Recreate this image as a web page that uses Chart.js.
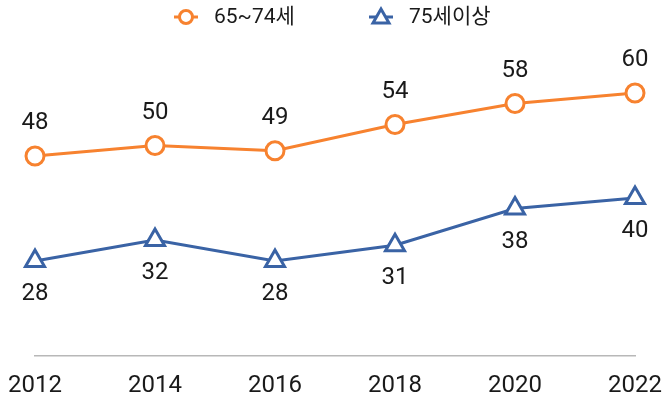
<!DOCTYPE html>
<html><head><meta charset="utf-8">
<script src="https://cdn.jsdelivr.net/npm/chart.js@4"></script>
<style>html,body{margin:0;padding:0;background:#fff}#wrap{width:664px;height:403px}</style>
</head><body><div id="wrap"><canvas id="c" width="664" height="403"></canvas></div>
<script>
const categories = ['2012','2014','2016','2018','2020','2022'];
const seriesNames = ['65~74세','75세이상'];
const age65to74 = [48,50,49,54,58,60];
const age75plus = [28,32,28,31,38,40];
const colors = ['#F7822F','#3A63A5'];
const FONT = "Roboto, 'Noto Sans CJK KR', sans-serif";

const labelPlugin = {
  id:'labels',
  afterDatasetsDraw(chart){
    const ctx = chart.ctx;
    ctx.save();
    ctx.font = '24px ' + FONT;
    ctx.fillStyle = '#1a1a1a';
    ctx.textAlign = 'center';
    ctx.textBaseline = 'middle';
    chart.data.datasets.forEach((ds,i)=>{
      const meta = chart.getDatasetMeta(i);
      meta.data.forEach((pt,j)=>{
        const off = i===0 ? -33 : 33;
        ctx.fillText(String(ds.data[j]), pt.x, pt.y + off);
      });
    });
    ctx.restore();
  }
};

const legendPlugin = {
  id:'customLegend',
  afterDraw(chart){
    const ctx = chart.ctx;
    ctx.save();
    const y = 17;
    const items = [{x:174, text:seriesNames[0], style:'circle', color:colors[0]},
                   {x:369, text:seriesNames[1], style:'triangle', color:colors[1]}];
    items.forEach(it=>{
      ctx.strokeStyle = it.color; ctx.lineWidth = 3;
      ctx.beginPath(); ctx.moveTo(it.x, y); ctx.lineTo(it.x+24, y); ctx.stroke();
      ctx.fillStyle = '#fff';
      const cx = it.x+12;
      if(it.style==='circle'){
        ctx.beginPath(); ctx.arc(cx, y, 6.5, 0, Math.PI*2); ctx.fill(); ctx.stroke();
      } else {
        ctx.beginPath(); ctx.moveTo(cx, y-8); ctx.lineTo(cx+8, y+6); ctx.lineTo(cx-8, y+6); ctx.closePath(); ctx.fill(); ctx.stroke();
      }
      ctx.fillStyle = '#1a1a1a';
      ctx.font = '21px ' + FONT;
      ctx.textAlign = 'left'; ctx.textBaseline = 'middle';
      ctx.fillText(it.text, it.x+40, y+1);
    });
    ctx.restore();
  }
};

new Chart(document.getElementById('c'), {
  type:'line',
  data:{
    labels: categories,
    datasets:[
      {label:seriesNames[0], data:age65to74, borderColor:colors[0], backgroundColor:'#fff',
       borderWidth:3, pointStyle:'circle', pointRadius:9, pointBorderWidth:3, pointBackgroundColor:'#fff', pointBorderColor:colors[0]},
      {label:seriesNames[1], data:age75plus, borderColor:colors[1], backgroundColor:'#fff',
       borderWidth:3, pointStyle:'triangle', pointRadius:11, pointBorderWidth:3, pointBackgroundColor:'#fff', pointBorderColor:colors[1]}
    ]
  },
  options:{
    responsive:false, animation:false, devicePixelRatio:1,
    layout:{padding:{top:40.5, left:35, right:29, bottom:0}},
    plugins:{legend:{display:false}, tooltip:{enabled:false}},
    scales:{
      x:{offset:false,
         afterFit(scale){ scale.height = 47.5; scale.paddingLeft = 0; scale.paddingRight = 0; },
         grid:{display:false, drawTicks:false},
         border:{display:true, color:'#b8b8b8', width:1.5},
         ticks:{font:{family:FONT, size:24}, color:'#1a1a1a', padding:16, maxRotation:0, autoSkip:false}},
      y:{display:false, min:10, max:70}
    }
  },
  plugins:[labelPlugin, legendPlugin]
});
</script></body></html>
